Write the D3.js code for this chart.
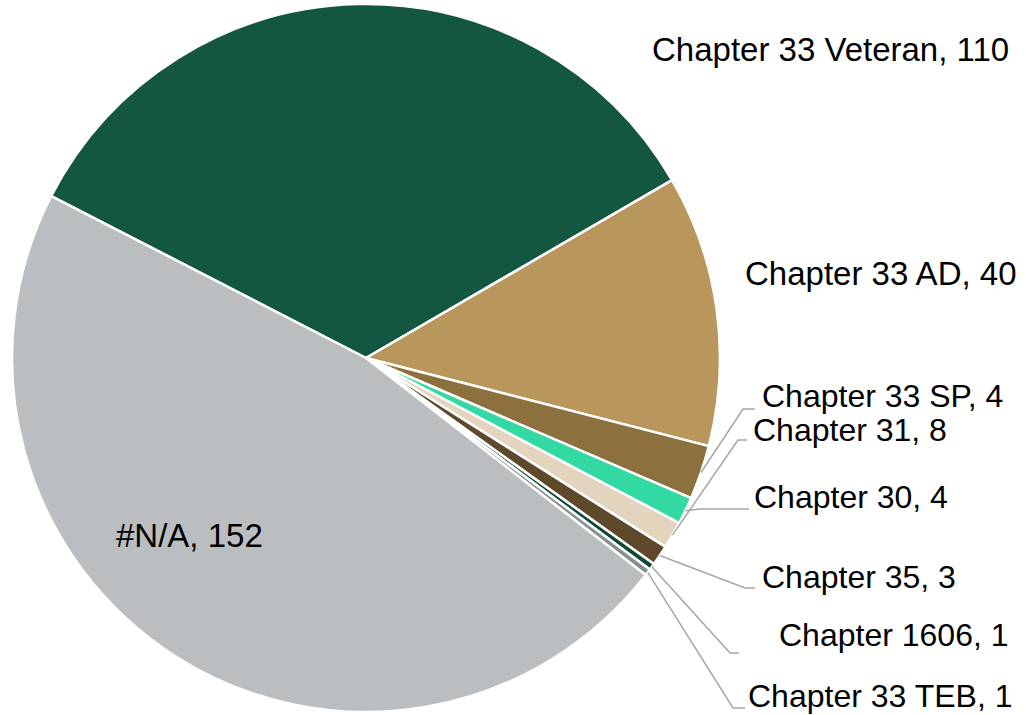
<!DOCTYPE html>
<html>
<head>
<meta charset="utf-8">
<script src="https://cdn.jsdelivr.net/npm/d3@7"></script>
<style>
    body { margin: 0; background: #fff; }
    text { font-family: "Liberation Sans", Arial, sans-serif; fill: #000; }
</style>
</head>
<body>
<svg id="chart" width="1028" height="715"></svg>
<script>
// data, in slice order (clockwise)
const categories = ["Chapter 33 Veteran", "Chapter 33 AD", "Chapter 31", "Chapter 30",
    "Chapter 33 SP", "Chapter 35", "Chapter 1606", "Chapter 33 TEB", "#N/A"];
const values = [110, 40, 8, 4, 4, 3, 1, 1, 152];
const colors = ["#135741", "#b9965b", "#8c713f", "#33d9a3", "#e3d5bd",
    "#5e4a2a", "#0e4a35", "#86908f", "#bbbec1"];

// where each label sits, and which slice its leader line runs to
const labelLayout = [
    { name: "Chapter 33 Veteran", x: 652, y: 61 },
    { name: "Chapter 33 AD", x: 745, y: 285 },
    { name: "Chapter 33 SP", x: 762, y: 407, lineY: 409, lineX: 755, elbowX: 743, target: "Chapter 31" },
    { name: "Chapter 31", x: 753, y: 441, lineY: 440, lineX: 747, elbowX: 738, target: "Chapter 33 SP" },
    { name: "Chapter 30", x: 754, y: 508, lineY: 509, lineX: 749, elbowX: 700, target: "Chapter 30" },
    { name: "Chapter 35", x: 762, y: 588, lineY: 588, lineX: 755, elbowX: 745, target: "Chapter 35" },
    { name: "Chapter 1606", x: 779, y: 646, lineY: 653, lineX: 739, elbowX: 730, target: "Chapter 1606" },
    { name: "Chapter 33 TEB", x: 748, y: 707, lineY: 708, lineX: 745, elbowX: 733, target: "Chapter 33 TEB" },
    { name: "#N/A", x: 116, y: 547 }
];

const svg = d3.select("#chart");
const cx = 366, cy = 358, radius = 354;

const rows = categories.map((c, i) => ({ name: c, value: values[i], color: colors[i] }));

// Excel rotated the first slice so it starts at about -62.8 degrees
const start = -62.77 * Math.PI / 180;
const pie = d3.pie()
    .sort(null)
    .value(d => d.value)
    .startAngle(start)
    .endAngle(start + 2 * Math.PI);

const arcs = pie(rows);
const arc = d3.arc().innerRadius(0).outerRadius(radius);

const g = svg.append("g").attr("transform", `translate(${cx},${cy})`);

g.selectAll("path.slice")
    .data(arcs)
    .enter()
    .append("path")
    .attr("class", "slice")
    .attr("d", arc)
    .attr("fill", d => d.data.color)
    .attr("stroke", "#fff")
    .attr("stroke-width", 2.5)
    .attr("stroke-linejoin", "round");

// point on the outer edge at the middle of a slice
function edgePoint(name) {
    const a = arcs.find(d => d.data.name === name);
    const mid = (a.startAngle + a.endAngle) / 2;
    return [cx + radius * Math.sin(mid), cy - radius * Math.cos(mid)];
}

// leader lines
labelLayout.filter(d => d.target).forEach(d => {
    const p = edgePoint(d.target);
    svg.append("polyline")
        .attr("points", [[d.lineX, d.lineY], [d.elbowX, d.lineY], p].map(q => q.join(",")).join(" "))
        .attr("fill", "none")
        .attr("stroke", "#a6a6a6")
        .attr("stroke-width", 1.5);
});

// labels
svg.selectAll("text.label")
    .data(labelLayout)
    .enter()
    .append("text")
    .attr("class", "label")
    .attr("x", d => d.x)
    .attr("y", d => d.y)
    .attr("font-size", d => d.target ? 32 : 33)
    .text(d => `${d.name}, ${values[categories.indexOf(d.name)]}`);
</script>
</body>
</html>
